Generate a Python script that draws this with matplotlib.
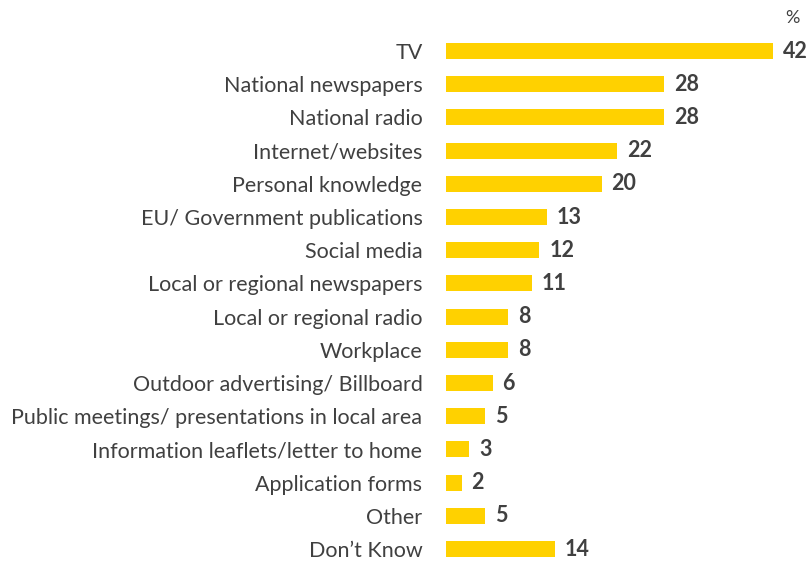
import matplotlib
matplotlib.use('Agg')
import matplotlib.pyplot as plt

# categories and survey shares (%)
categories = [
    'TV', 'National newspapers', 'National radio', 'Internet/websites',
    'Personal knowledge', 'EU/ Government publications', 'Social media',
    'Local or regional newspapers', 'Local or regional radio', 'Workplace',
    'Outdoor advertising/ Billboard', 'Public meetings/ presentations in local area',
    'Information leaflets/letter to home', 'Application forms', 'Other', 'Don\u2019t Know',
]
values = [42, 28, 28, 22, 20, 13, 12, 11, 8, 8, 6, 5, 3, 2, 5, 14]

BAR_COLOR = '#FFD100'
TEXT_COLOR = '#404040'

plt.rcParams['font.family'] = ['Lato', 'DejaVu Sans']

fig = plt.figure(figsize=(8.08, 5.63), dpi=100)
ax = fig.add_axes([446 / 808, 0, 1 - 446 / 808, 1])

ypos = list(range(len(categories)))
ax.barh(ypos, values, height=0.48, color=BAR_COLOR)

for y, v in zip(ypos, values):
    ax.annotate(str(v), (v, y), xytext=(7, 0), textcoords='offset points',
                va='center', ha='left', fontsize=15.5, fontweight='bold', color=TEXT_COLOR)

ax.set_yticks(ypos)
ax.set_yticklabels(categories, fontsize=15.5, color=TEXT_COLOR)
ax.tick_params(axis='y', length=0, pad=17)
ax.set_xticks([])
ax.set_xlim(0, (808 - 446) / 7.79)
ax.set_ylim(512 / 33.2, -51 / 33.2)
for s in ax.spines.values():
    s.set_visible(False)

fig.text(792 / 808, 1 - 18 / 563, '%', ha='center', va='center', fontsize=13, color=TEXT_COLOR)

fig.savefig('out.png', dpi=100)
